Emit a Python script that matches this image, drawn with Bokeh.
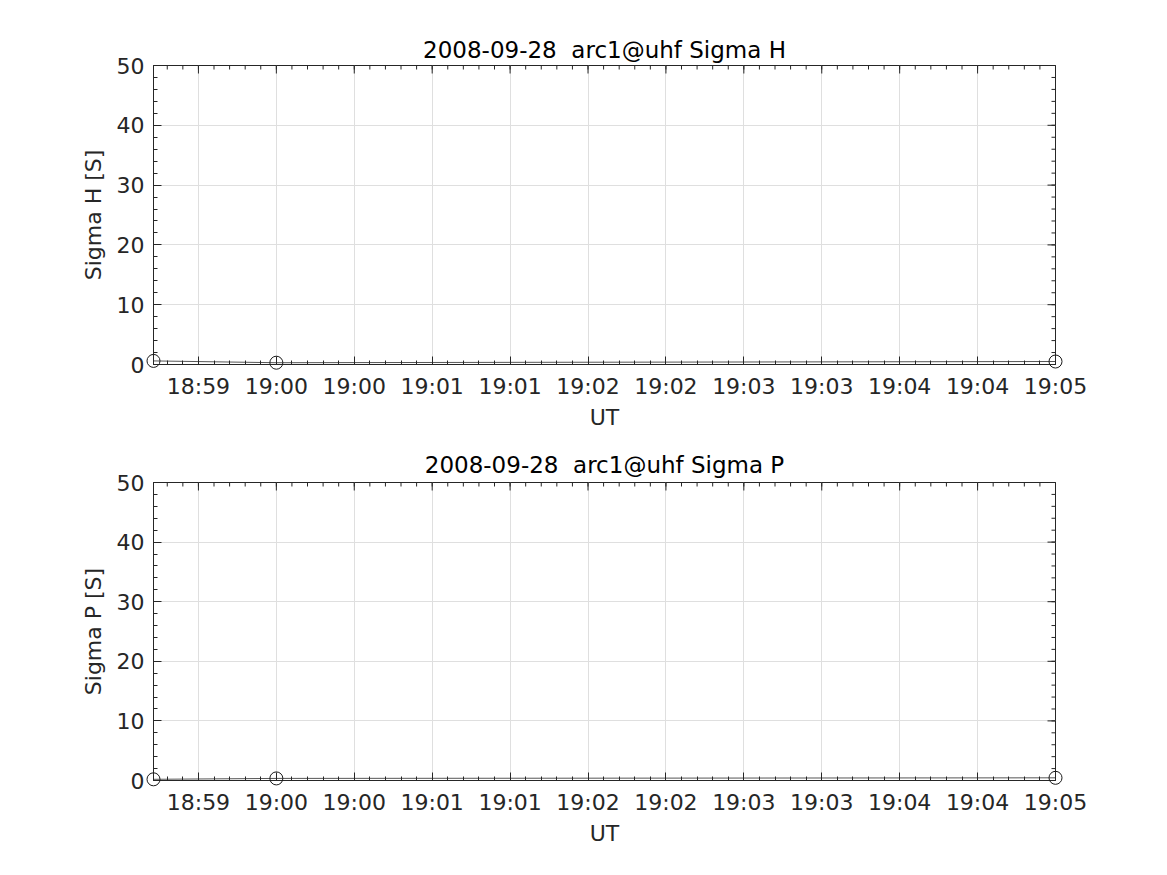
import math
from datetime import datetime, timedelta

from bokeh.embed import file_html
from bokeh.resources import INLINE
from bokeh.layouts import column
from bokeh.models import Range1d, FixedTicker, ColumnDataSource
from bokeh.plotting import figure

# ---------------- data ----------------
times = ["2008-09-28 18:59:12.700", "2008-09-28 19:00:00.000", "2008-09-28 19:05:00.000"]
sigma_h = [0.6, 0.3, 0.5]
sigma_p = [0.2, 0.35, 0.45]

x_start = "2008-09-28 18:59:12.700"
x_end = "2008-09-28 19:05:00.000"

tick_times = ["2008-09-28 18:59:30", "2008-09-28 19:00:00", "2008-09-28 19:00:30",
              "2008-09-28 19:01:00", "2008-09-28 19:01:30", "2008-09-28 19:02:00",
              "2008-09-28 19:02:30", "2008-09-28 19:03:00", "2008-09-28 19:03:30",
              "2008-09-28 19:04:00", "2008-09-28 19:04:30", "2008-09-28 19:05:00"]
tick_labels = ["18:59", "19:00", "19:00", "19:01", "19:01", "19:02",
               "19:02", "19:03", "19:03", "19:04", "19:04", "19:05"]

y_ticks = [0, 10, 20, 30, 40, 50]

titles = ["2008-09-28\u00a0 arc1@uhf Sigma H", "2008-09-28\u00a0 arc1@uhf Sigma P"]
ylabels = ["Sigma H [S]", "Sigma P [S]"]
xlabel = "UT"

# ---------------- helpers ----------------
EPOCH = datetime(1970, 1, 1)
FMT = "%Y-%m-%d %H:%M:%S.%f"


def parse(s):
    if "." not in s:
        s = s + ".000"
    return datetime.strptime(s, FMT)


def ms(s):
    return (parse(s) - EPOCH).total_seconds() * 1000.0


x_ms = [ms(t) for t in times]
xs, xe = ms(x_start), ms(x_end)
major_x = [ms(t) for t in tick_times]
minor_x = []
t = parse("2008-09-28 18:59:00")
while t <= parse(x_end):
    v = (t - EPOCH).total_seconds() * 1000.0
    if xs <= v <= xe:
        minor_x.append(v)
    t += timedelta(seconds=6)
overrides = {v: lab for v, lab in zip(major_x, tick_labels)}

minor_y = list(range(0, 51, 2))
Y0, Y1 = 0, 50

TXT = "#262626"
FONT = "DejaVu Sans"


def style_axis(ax):
    ax.axis_line_color = TXT
    ax.axis_line_width = 1
    ax.major_tick_line_color = TXT
    ax.minor_tick_line_color = TXT
    ax.major_tick_in = 8
    ax.major_tick_out = 0
    ax.minor_tick_in = 4
    ax.minor_tick_out = 0
    ax.major_label_text_color = TXT
    ax.major_label_text_font = FONT
    ax.major_label_text_font_size = "22px"
    ax.major_label_standoff = 9
    ax.axis_label_text_font = FONT
    ax.axis_label_text_color = TXT
    ax.axis_label_text_font_style = "normal"
    ax.axis_label_text_font_size = "22px"
    ax.axis_label_standoff = 6


def make(title, ylabel, yvals, top, frame_h, bottom, title_standoff):
    p = figure(x_axis_type="datetime", output_backend="svg", toolbar_location=None,
               x_range=Range1d(xs, xe), y_range=Range1d(Y0, Y1),
               frame_width=902, frame_height=frame_h,
               min_border_left=153, min_border_right=104,
               min_border_top=top, min_border_bottom=bottom,
               background_fill_color="white", border_fill_color="white")
    p.outline_line_color = TXT
    p.outline_line_width = 1
    xt = FixedTicker(ticks=major_x, minor_ticks=minor_x)
    yt = FixedTicker(ticks=y_ticks, minor_ticks=minor_y)

    xa = p.xaxis[0]
    xa.ticker = xt
    xa.major_label_overrides = overrides
    xa.axis_label = xlabel
    style_axis(xa)
    xa.axis_label_standoff = 3

    ya = p.yaxis[0]
    ya.ticker = yt
    ya.axis_label = ylabel
    style_axis(ya)
    ya.axis_label_standoff = 8

    p.xgrid.ticker = xt
    p.ygrid.ticker = yt
    for g in (p.xgrid[0], p.ygrid[0]):
        g.grid_line_color = "#dfdfdf"
        g.grid_line_width = 1
        g.minor_grid_line_color = None

    # inward ticks on the top and right box edges (mirror of the axes ticks)
    p.scatter(major_x, [Y1] * len(major_x), marker="dash", angle=math.pi / 2,
              size=16, line_color=TXT, line_width=1)
    p.scatter(minor_x, [Y1] * len(minor_x), marker="dash", angle=math.pi / 2,
              size=8, line_color=TXT, line_width=1)
    p.scatter([xe] * len(y_ticks), y_ticks, marker="dash",
              size=16, line_color=TXT, line_width=1)
    p.scatter([xe] * len(minor_y), minor_y, marker="dash",
              size=8, line_color=TXT, line_width=1)

    p.title.text = title
    p.title.align = "center"
    p.title.text_font = FONT
    p.title.text_font_size = "23px"
    p.title.text_font_style = "normal"
    p.title.text_color = "black"
    p.title.standoff = title_standoff

    src = ColumnDataSource(dict(x=x_ms, y=yvals))
    p.line("x", "y", source=src, line_color="#555555", line_width=1)
    p.scatter("x", "y", source=src, marker="circle", size=13,
              fill_color=None, line_color="#1a1a1a", line_width=1,
              level="overlay")
    return p


p1 = make(titles[0], ylabels[0], sigma_h, 65, 299, 60, 6)
p2 = make(titles[1], ylabels[1], sigma_p, 50, 298, 78, 10)

layout = column(p1, p2, spacing=0)
open("out.html", "w").write(file_html(layout, INLINE))
